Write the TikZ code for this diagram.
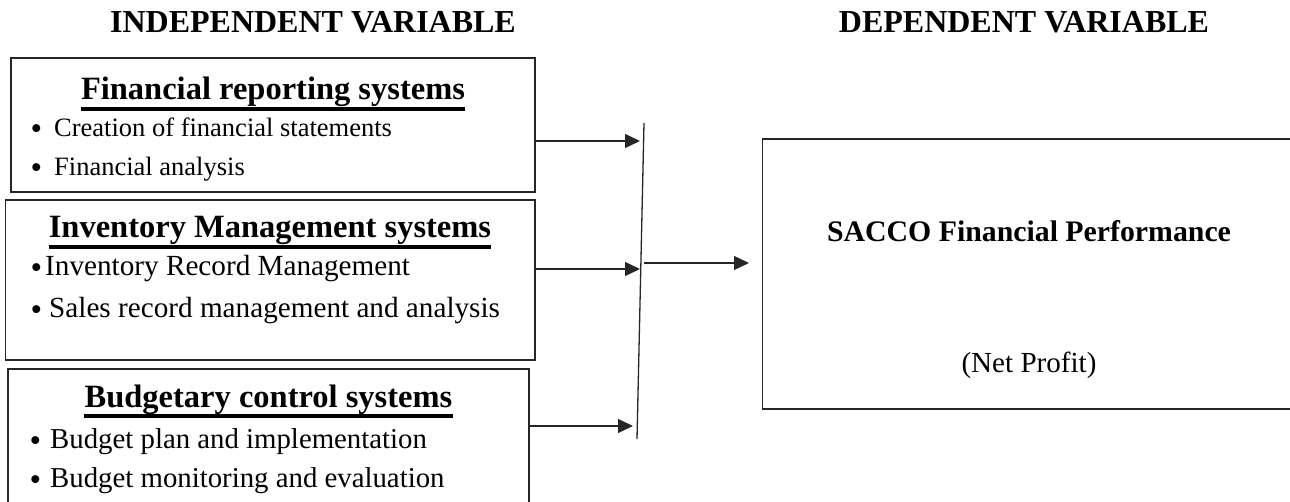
\documentclass[tikz,border=0pt]{standalone}
\usepackage{fontspec}
\setmainfont{Liberation Serif}
\usepackage{tikz}
\usetikzlibrary{arrows.meta,positioning,calc}
\definecolor{cEdge}{HTML}{262626}
\newcommand{\itemdot}{\raisebox{-3pt}{\fontsize{33}{33}\selectfont\textbullet}}
\tikzset{
  frame/.style={draw=cEdge, line width=1.4pt, inner sep=0pt},
  head/.style={font=\fontsize{32}{38}\selectfont\bfseries, inner sep=0pt, anchor=base},
  title/.style={font=\fontsize{32.5}{38}\selectfont\bfseries, inner sep=0pt, anchor=base},
  item/.style={font=\fontsize{#1}{#1}\selectfont, inner sep=0pt, anchor=base west},
  result/.style={font=\fontsize{#1}{#1}\selectfont, inner sep=0pt, anchor=base},
  resultb/.style={font=\fontsize{#1}{#1}\selectfont\bfseries, inner sep=0pt, anchor=base},
  uline/.style={line width=3.4pt, draw=black},
  flow/.style={-{Triangle[length=15pt, width=14pt]}, line width=1.3pt, draw=cEdge},
  bar/.style={line width=1.3pt, draw=cEdge},
}

\begin{document}
\begin{tikzpicture}[x=1pt, y=-1pt]
  \useasboundingbox (0,0) rectangle (1290,502);
  \clip (0,0) rectangle (1290,502);

  \node[head] (ivHead) at (313,33) {INDEPENDENT VARIABLE};
  \node[head] (dvHead) at (1024,33) {DEPENDENT VARIABLE};

  \node[frame, minimum width=524pt, minimum height=134pt] (frs) at (273,125) {};
  \node[title] (frsT) at (273,100) {Financial reporting systems};
  \draw[uline] ([yshift=-9pt]frsT.base west) -- ([yshift=-9pt]frsT.base east);
  \node[item=26.5] (frs1) at (54,137) {\llap{\itemdot\hspace{12pt}}Creation of financial statements};
  \node[item=26.5] (frs2) at (54,176) {\llap{\itemdot\hspace{12pt}}Financial analysis};

  \node[frame, minimum width=529.5pt, minimum height=160pt] (ims) at (270.25,280) {};
  \node[title] (imsT) at (270,238) {Inventory Management systems};
  \draw[uline] ([yshift=-9pt]imsT.base west) -- ([yshift=-9pt]imsT.base east);
  \node[item=29.2] (ims1) at (45,276) {\llap{\itemdot\hspace{3pt}}Inventory Record Management};
  \node[item=29.2] (ims2) at (49,318) {\llap{\itemdot\hspace{7pt}}Sales record management and analysis};

  \node[frame, minimum width=521pt, minimum height=137pt] (bcs) at (268.5,437.5) {};
  \node[title] (bcsT) at (268.5,407) {Budgetary control systems};
  \draw[uline] ([yshift=-9pt]bcsT.base west) -- ([yshift=-9pt]bcsT.base east);
  \node[item=28.8] (bcs1) at (50,448) {\llap{\itemdot\hspace{9pt}}Budget plan and implementation};
  \node[item=28.8] (bcs2) at (50,487) {\llap{\itemdot\hspace{9pt}}Budget monitoring and evaluation};

  \node[frame, minimum width=532.3pt, minimum height=270pt] (sfp) at (1028.85,274) {};
  \node[resultb=29.8] (sfpT) at (1029,242) {SACCO Financial Performance};
  \node[result=29.1] (sfpN) at (1029,373) {(Net Profit)};

  \coordinate (barT) at (644,123);
  \coordinate (barB) at (637,439);
  \draw[bar] (barT) -- (barB);
  \coordinate (j1) at (640,141);
  \coordinate (j2) at (640,269);
  \coordinate (j3) at (633,426);
  \coordinate (jo) at (644,263);
  \draw[flow] (frs.east |- j1) -- (j1);
  \draw[flow] (ims.east |- j2) -- (j2);
  \draw[flow] (bcs.east |- j3) -- (j3);
  \draw[flow, shorten >=13pt] (jo) -- (jo -| sfp.west);
\end{tikzpicture}
\end{document}
